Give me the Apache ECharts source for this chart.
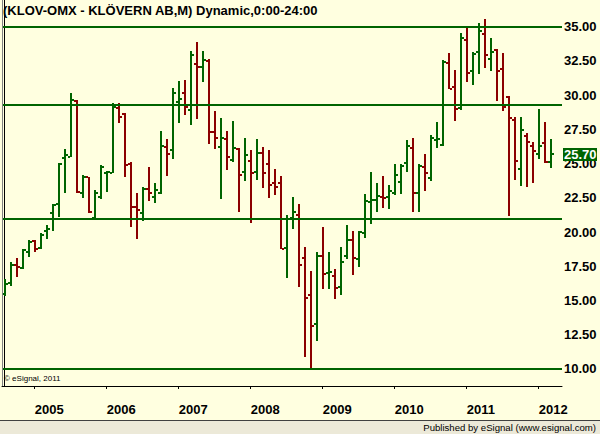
<!DOCTYPE html>
<html><head><meta charset="utf-8">
<script src="https://cdn.jsdelivr.net/npm/echarts@6/dist/echarts.min.js"></script>
<style>html,body{margin:0;padding:0;background:#FFFFE0;}#c{width:600px;height:434px;}</style>
</head><body><div id="c"></div>
<script>
// Monthly bars, Aug 2004 .. Mar 2012
const startYear = 2004, startMonth = 8, barCount = 92;
const months = [];
for (let i = 0; i < barCount; i++) {
  const m = startMonth - 1 + i;
  months.push((startYear + Math.floor(m / 12)) + '-' + String(m % 12 + 1).padStart(2, '0'));
}
const open = [15.47,16.31,17.59,17.35,18.57,19.37,18.84,20.10,21.37,22.05, 25.38,25.50,29.57,22.83,24.00,21.00,22.59,24.29,24.34,29.04, 28.62,24.97,21.85,21.37,23.15,22.59,22.83,26.24,25.99,29.52, 30.18,28.91,32.30,32.08,32.52,27.31,26.24,26.77,25.26,26.04, 24.41,25.21,24.41,25.75,24.97,23.61,23.61,18.81,21.00,21.25, 18.08,15.40,13.29,18.28,16.98,16.82,16.01,18.25,19.42,18.06, 19.91,22.22,22.34,22.59,22.59,22.83,23.66,25.02,26.11,22.83, 24.78,23.95,26.72,26.36,32.32,30.62,29.04,34.03,31.79,33.17, 34.50,32.66,33.30,31.88,29.84,28.18,24.61,27.02,26.29,25.70, 26.53,25.12];
const high = [16.54,17.78,18.10,18.78,19.42,19.42,19.90,20.51,22.05,25.05, 26.03,30.18,29.64,24.17,24.05,23.07,24.87,24.48,29.45,29.45, 28.67,25.14,22.83,23.27,24.78,23.56,27.38,26.80,30.50,31.03, 31.11,33.22,33.88,33.22,32.61,28.84,28.33,27.38,28.11,26.11, 26.87,25.99,26.80,26.21,25.99,24.61,24.09,21.25,22.56,22.05, 18.88,17.16,18.52,20.37,18.52,17.30,18.93,20.51,20.08,20.08, 22.78,24.39,23.58,24.12,23.44,24.95,24.95,26.72,26.89,24.95, 25.70,27.09,28.04,32.57,33.08,31.84,34.51,35.05,33.15,35.24, 35.56,34.15,33.34,33.08,29.94,28.43,28.40,27.21,26.58,28.99, 28.04,26.80];
const low = [15.32,16.07,16.68,17.27,18.20,18.52,18.79,19.51,20.10,21.12, 22.83,25.50,22.83,22.51,21.42,20.95,22.41,22.93,24.29,27.99, 24.05,20.35,19.49,20.83,22.29,22.15,22.78,24.12,25.36,27.99, 28.57,27.84,28.28,30.93,26.46,26.04,22.44,24.56,25.14,21.49, 23.75,20.64,23.83,23.24,22.46,22.73,18.74,16.62,20.20,15.96, 10.90,10.05,12.07,15.82,15.82,15.09,15.40,18.00,16.89,17.47, 19.54,20.61,21.49,21.78,21.71,22.73,22.78,24.41,21.49,21.49, 23.02,23.75,26.16,26.29,30.42,28.14,28.91,30.98,30.76,31.57, 32.00,31.79,29.60,28.87,21.20,23.80,23.39,23.32,23.61,25.36, 25.07,24.70];
const close = [16.24,17.59,17.42,18.68,19.30,18.74,19.78,20.20,21.95,25.00, 25.62,29.64,22.95,24.00,21.47,22.83,24.78,24.36,29.11,28.38, 24.90,21.85,21.61,23.15,22.88,23.07,26.29,25.70,30.18,29.69, 29.16,32.91,32.05,32.57,27.31,26.85,26.85,25.46,26.11,24.17, 25.60,24.34,25.80,24.34,23.46,23.32,18.79,20.93,21.49,17.59, 15.21,13.16,18.28,16.94,17.05,15.89,17.84,19.42,18.11,19.98, 22.27,22.34,22.66,22.46,23.02,24.14,24.82,26.31,22.88,24.85, 24.34,26.85,26.82,32.44,30.45,28.99,34.20,31.64,33.03,34.71, 32.96,33.17,31.79,29.16,28.33,25.21,27.43,26.60,25.94,26.29, 25.12,25.70];
const levels = [34.97, 29.28, 20.95, 10.00];
const yTicks = [10, 12.5, 15, 17.5, 20, 22.5, 25, 27.5, 30, 32.5, 35];
const lastPrice = 25.70;
const titleText = '(KLOV-OMX - KLÖVERN AB,M) Dynamic,0:00-24:00';
const copyText = '© eSignal, 2011';
const footText = 'Published by eSignal (www.esignal.com)';

const GREEN = '#006400', RED = '#8B0000', BG = '#FFFFE0';
const yearIdx = [];
months.forEach((m, i) => { if (m.endsWith('-01')) yearIdx.push(i); });
const data = months.map((m, i) => [i, open[i], high[i], low[i], close[i]]);
const FONT = '"Liberation Sans", Arial, sans-serif';

const chart = echarts.init(document.getElementById('c'), null, {renderer: 'svg'});
const option = {
  backgroundColor: BG,
  animation: false,
  grid: {left: 2, right: 38, top: 0, bottom: 48},
  xAxis: {
    type: 'value', min: -0.45, max: 92.88,
    axisLine: {show: true, lineStyle: {color: '#000', width: 1}},
    axisTick: {show: true, customValues: yearIdx, length: 3, lineStyle: {color: '#000'}},
    axisLabel: {
      customValues: yearIdx, margin: 17, align: 'left',
      formatter: v => months[Math.round(v)].slice(0, 4),
      color: '#000', fontSize: 13, fontWeight: 'bold', fontFamily: FONT
    },
    splitLine: {show: false}
  },
  yAxis: {
    type: 'value', position: 'right', min: 8.754, max: 36.95,
    axisLine: {show: true, lineStyle: {color: '#000', width: 1}},
    axisTick: {show: false},
    axisLabel: {
      customValues: yTicks, margin: 2, align: 'left',
      formatter: v => v.toFixed(2),
      color: '#000', fontSize: 13, fontWeight: 'bold', fontFamily: FONT
    },
    splitLine: {show: false}
  },
  series: [{
    type: 'custom',
    data: data,
    encode: {x: 0, y: [1, 2, 3, 4]},
    clip: true,
    z: 3,
    renderItem: function (params, api) {
      const k = api.value(0);
      const o = api.coord([k, api.value(1)]);
      const h = api.coord([k, api.value(2)]);
      const l = api.coord([k, api.value(3)]);
      const c = api.coord([k, api.value(4)]);
      const x = Math.round(o[0]);
      const col = api.value(4) >= api.value(1) ? GREEN : RED;
      const hy = Math.round(h[1]), ly = Math.round(l[1]);
      return {type: 'group', children: [
        {type: 'rect', shape: {x: x - 1, y: hy, width: 2, height: Math.max(2, ly - hy)}, style: {fill: col}},
        {type: 'rect', shape: {x: x - 3, y: Math.round(o[1]) - 1, width: 2, height: 2}, style: {fill: col}},
        {type: 'rect', shape: {x: x + 1, y: Math.round(c[1]) - 1, width: 2, height: 2}, style: {fill: col}}
      ]};
    },
    markLine: {
      silent: true, symbol: 'none', animation: false,
      label: {show: false},
      lineStyle: {color: GREEN, width: 2, type: 'solid'},
      data: levels.map(v => ({yAxis: v}))
    }
  }]
};
chart.setOption(option);

const py = Math.round(chart.convertToPixel({yAxisIndex: 0}, lastPrice));
chart.setOption({
  graphic: [
    {type: 'line', shape: {x1: 2.5, y1: 0, x2: 2.5, y2: 386}, style: {stroke: '#808080', lineWidth: 1}, z: 10},
    {type: 'text', left: 3, top: 4, z: 10, style: {text: titleText, font: 'bold 13px ' + FONT, fill: '#000'}},
    {type: 'text', left: 4, top: 374, z: 10, style: {text: copyText, font: '8px ' + FONT, fill: '#000'}},
    {type: 'rect', shape: {x: 563, y: py - 6, width: 34, height: 13}, style: {fill: GREEN}, z: 20},
    {type: 'text', x: 564, y: py, z: 21, style: {text: lastPrice.toFixed(2), font: 'bold 13px ' + FONT, fill: '#fff', verticalAlign: 'middle', align: 'left'}},
    {type: 'rect', shape: {x: 0, y: 420, width: 600, height: 14}, style: {fill: '#ECE9D8'}, z: 10},
    {type: 'line', shape: {x1: 0, y1: 420.5, x2: 600, y2: 420.5}, style: {stroke: '#404040', lineWidth: 1}, z: 11},
    {type: 'text', right: 4, top: 422, z: 12, style: {text: footText, font: '9.6px ' + FONT, fill: '#000'}}
  ]
});
</script>
</body></html>
